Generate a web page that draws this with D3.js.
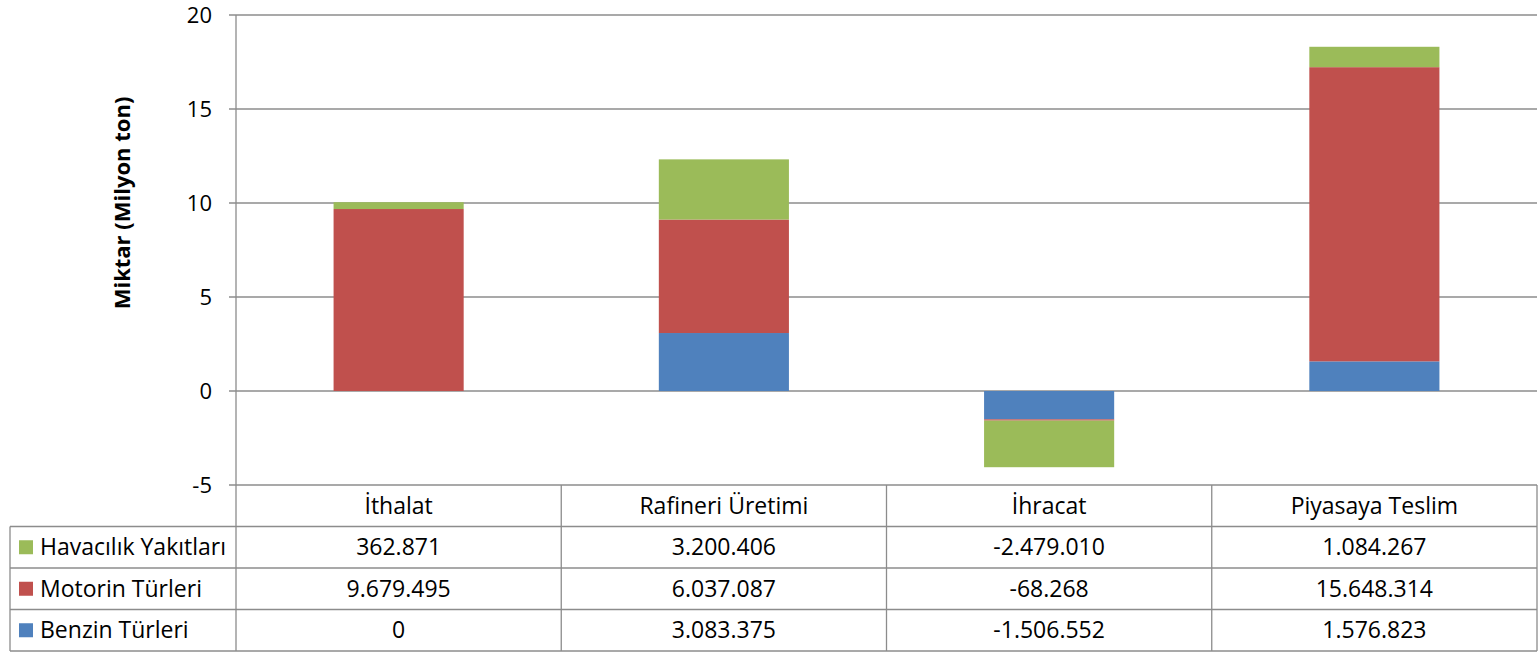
<!DOCTYPE html>
<html>
<head>
<meta charset="utf-8">
<script src="https://cdn.jsdelivr.net/npm/d3@7"></script>
<style>
  body { margin: 0; background: #fff; }
  text { font-family: "Open Sans", Lato, sans-serif; fill: #000; }
</style>
</head>
<body>
<svg id="canvas" width="1539" height="653"></svg>
<script>
// categories and series (values in tons, as shown in the table)
let categories = ['İthalat', 'Rafineri Üretimi', 'İhracat', 'Piyasaya Teslim'];
let seriesNames = ['Benzin Türleri', 'Motorin Türleri', 'Havacılık Yakıtları'];
let benzin = [0, 3083375, -1506552, 1576823];
let motorin = [9679495, 6037087, -68268, 15648314];
let havacilik = [362871, 3200406, -2479010, 1084267];
let yTicks = [-5, 0, 5, 10, 15, 20];
let colors = ['#4F81BD', '#C0504D', '#9BBB59'];

let svg = d3.select('#canvas');

let plotLeft = 236, plotRight = 1537, plotTop = 15, plotBottom = 485;
let rowH = 41.5;
let fs = '23px';

let x = d3.scaleBand().domain(categories).range([plotLeft, plotRight]).paddingInner(0.6).paddingOuter(0.3);
let col = d3.scaleBand().domain(categories).range([plotLeft, plotRight]);
let y = d3.scaleLinear().domain([-5, 20]).range([plotBottom, plotTop]);

// build rows for stacking (million tons)
let rows = categories.map((c, i) => ({
  cat: c,
  'Benzin Türleri': benzin[i] / 1e6,
  'Motorin Türleri': motorin[i] / 1e6,
  'Havacılık Yakıtları': havacilik[i] / 1e6
}));
let stacked = d3.stack().keys(seriesNames).offset(d3.stackOffsetDiverging)(rows);

// gridlines
svg.append('g').selectAll('line').data(yTicks).enter().append('line')
  .attr('x1', plotLeft - 7).attr('x2', plotRight)
  .attr('y1', d => y(d)).attr('y2', d => y(d))
  .attr('stroke', '#8c8c8c').attr('stroke-width', 1.3);

// axis line
svg.append('line').attr('x1', plotLeft).attr('x2', plotLeft).attr('y1', plotTop).attr('y2', plotBottom)
  .attr('stroke', '#8c8c8c').attr('stroke-width', 1.3);

// tick labels
svg.append('g').selectAll('text').data(yTicks).enter().append('text')
  .attr('x', plotLeft - 24).attr('y', d => y(d)).attr('dy', '0.35em')
  .attr('text-anchor', 'end').style('font-size', '22px')
  .text(d => d);

// bars
svg.append('g').selectAll('g').data(stacked).enter().append('g')
  .attr('fill', (d, i) => colors[i])
  .selectAll('rect').data(d => d).enter().append('rect')
  .attr('x', d => x(d.data.cat))
  .attr('width', x.bandwidth())
  .attr('y', d => y(Math.max(d[0], d[1])))
  .attr('height', d => Math.abs(y(d[0]) - y(d[1])));

// axis title
svg.append('text')
  .attr('transform', 'translate(130,203) rotate(-90)')
  .attr('text-anchor', 'middle')
  .style('font-size', '22px').style('font-weight', 'bold')
  .text('Miktar (Milyon ton)');

// data table
let fmt = v => String(v).replace(/\B(?=(\d{3})+(?!\d))/g, '.');
let tableRows = [
  { name: 'Havacılık Yakıtları', vals: havacilik, color: colors[2] },
  { name: 'Motorin Türleri', vals: motorin, color: colors[1] },
  { name: 'Benzin Türleri', vals: benzin, color: colors[0] }
];
let tableLeft = 10;
let tableBottom = plotBottom + rowH * 4;
let lineColor = '#8c8c8c';
let tbl = svg.append('g');

// header labels
tbl.selectAll('text.hdr').data(categories).enter().append('text')
  .attr('x', d => col(d) + col.bandwidth() / 2).attr('y', plotBottom + rowH / 2).attr('dy', '0.35em')
  .attr('text-anchor', 'middle').style('font-size', fs).text(d => d);

// horizontal lines
[1, 2, 3, 4].forEach(k => {
  tbl.append('line').attr('x1', tableLeft).attr('x2', plotRight)
    .attr('y1', plotBottom + rowH * k).attr('y2', plotBottom + rowH * k)
    .attr('stroke', lineColor).attr('stroke-width', 1.3);
});
// vertical lines
categories.forEach(c => {
  tbl.append('line').attr('x1', col(c)).attr('x2', col(c))
    .attr('y1', plotBottom).attr('y2', tableBottom).attr('stroke', lineColor).attr('stroke-width', 1.3);
});
tbl.append('line').attr('x1', plotRight).attr('x2', plotRight)
  .attr('y1', plotBottom).attr('y2', tableBottom).attr('stroke', lineColor).attr('stroke-width', 1.3);
tbl.append('line').attr('x1', tableLeft).attr('x2', tableLeft)
  .attr('y1', plotBottom + rowH).attr('y2', tableBottom).attr('stroke', lineColor).attr('stroke-width', 1.3);

tableRows.forEach((r, ri) => {
  let cy = plotBottom + rowH * (ri + 1) + rowH / 2;
  tbl.append('rect').attr('x', 19).attr('y', cy - 7).attr('width', 14).attr('height', 14).attr('fill', r.color);
  tbl.append('text').attr('x', 40).attr('y', cy).attr('dy', '0.35em')
    .style('font-size', fs).text(r.name);
  tbl.selectAll(null).data(categories).enter().append('text')
    .attr('x', d => col(d) + col.bandwidth() / 2).attr('y', cy).attr('dy', '0.35em')
    .attr('text-anchor', 'middle').style('font-size', fs)
    .text((d, i) => (r.vals[i] < 0 ? '-' : '') + fmt(Math.abs(r.vals[i])));
});
</script>
</body>
</html>
